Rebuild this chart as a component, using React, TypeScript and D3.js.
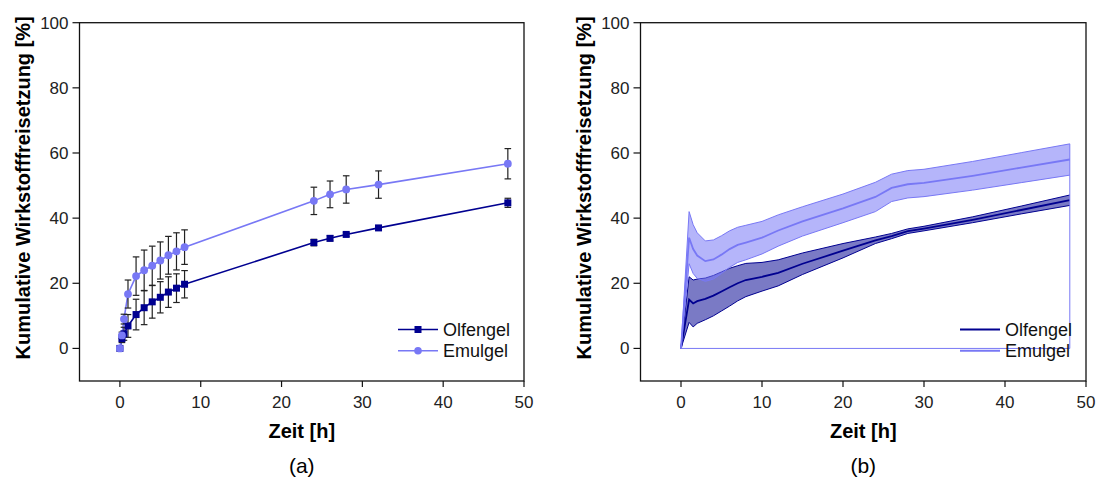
import React from "react";
import * as d3 from "d3";

// ---------- Data (a): discrete points with SD ----------
const timesA = [0, 0.25, 0.5, 1, 2, 3, 4, 5, 6, 7, 8, 24, 26, 28, 32, 48];
const olfengelA = [0, 3, 4.5, 6.9, 10.4, 12.5, 14.3, 15.7, 17.3, 18.5, 19.7, 32.5, 33.8, 35, 37, 44.7];
const olfengelSdA = [0, 1.2, 2, 3.5, 4.7, 5.2, 5, 4.8, 4.7, 4.4, 4.2, 1, 0.8, 0.6, 0.6, 1.4];
const emulgelA = [0, 4, 9, 16.7, 22.2, 24, 25.4, 27, 28.6, 29.8, 31.1, 45.3, 47.3, 48.8, 50.3, 56.7];
const emulgelSdA = [0, 1, 1.5, 4.3, 5.9, 6.2, 6, 5.7, 5.8, 5.7, 5.3, 4.2, 4.1, 4.2, 4.2, 4.65];

// ---------- Data (b): mean curve with SD band ----------
const timesB = [0, 1, 1.5, 2, 3, 4, 5, 6, 7, 8, 10, 12, 15, 20, 24, 26, 28, 30, 36, 42, 48];
const olfengelB = [0, 15, 13.8, 14.5, 15.2, 16.2, 17.5, 18.8, 20, 21, 22, 23.2, 26, 30, 33.2, 34.5, 36, 36.8, 39.5, 42.5, 45.5];
const olfengelSdB = [0, 7, 7.2, 6.8, 6.4, 6.2, 6, 5.8, 5.4, 5.1, 4.4, 4, 3.3, 2.2, 1, 0.8, 0.7, 0.7, 0.9, 1.2, 1.6];
const emulgelB = [0, 34, 30.5, 28.5, 26.8, 27.3, 28.8, 30.5, 31.8, 32.5, 34, 36.2, 39, 43, 46.5, 49.3, 50.4, 50.8, 53, 55.5, 58];
const emulgelSdB = [0, 8, 7.5, 7, 6.2, 6, 5.8, 5.6, 5.4, 5.3, 5, 4.8, 4.5, 4.4, 4.5, 4.2, 4.2, 4.2, 4.4, 4.6, 4.8];

const xTicks = [0, 10, 20, 30, 40, 50];
const yTicks = [0, 20, 40, 60, 80, 100];
const seriesNames = ["Olfengel", "Emulgel"];
const panelLabels = ["(a)", "(b)"];
const xTitle = "Zeit [h]";
const yTitle = "Kumulative Wirkstofffreisetzung [%]";

const DARK = "#000090";
const LIGHT = "#7878F5";
const FONT = "Arial, 'Liberation Sans', Helvetica, sans-serif";

type Pt = { t: number; v: number; sd: number };
const zip = (t: number[], v: number[], sd: number[]): Pt[] => t.map((x, i) => ({ t: x, v: v[i], sd: sd[i] }));

function Frame({ x, y, label }: { x: d3.ScaleLinear<number, number>; y: d3.ScaleLinear<number, number>; label: string }) {
  const [x0, x1] = x.range();
  const [y0, y1] = y.range();
  const cx = (x0 + x1) / 2;
  const cy = (y0 + y1) / 2;
  return (
    <g fontFamily={FONT}>
      <rect x={x0} y={y1} width={x1 - x0} height={y0 - y1} fill="none" stroke="#111" strokeWidth={1.3} />
      {yTicks.map((t) => (
        <g key={"y" + t}>
          <line x1={x0 - 7} x2={x0} y1={y(t)} y2={y(t)} stroke="#111" strokeWidth={1.2} />
          <text x={x0 - 11} y={y(t)} dy="0.35em" textAnchor="end" fontSize={17} fill="#222">
            {t}
          </text>
        </g>
      ))}
      {xTicks.map((t) => (
        <g key={"x" + t}>
          <line x1={x(t)} x2={x(t)} y1={y0} y2={y0 + 6} stroke="#111" strokeWidth={1.2} />
          <text x={x(t)} y={408} textAnchor="middle" fontSize={17} fill="#222">
            {t}
          </text>
        </g>
      ))}
      <text x={cx} y={438} textAnchor="middle" fontSize={20} fontWeight="bold" fill="#000">
        {xTitle}
      </text>
      <text x={cx} y={473} textAnchor="middle" fontSize={21} fill="#000">
        {label}
      </text>
      <text
        transform={`translate(${x0 - 57},${cy - 14}) rotate(-90)`}
        textAnchor="middle"
        dy="0.35em"
        fontSize={20}
        fontWeight="bold"
        fill="#000"
      >
        {yTitle}
      </text>
    </g>
  );
}

function Legend({ right, markers }: { right: number; markers: boolean }) {
  const colors = [DARK, LIGHT];
  return (
    <g fontFamily={FONT}>
      {seriesNames.map((n, i) => {
        const yy = 329.5 + i * 21.3;
        const lx0 = right - 126;
        const lx1 = right - 86;
        return (
          <g key={n}>
            <line x1={lx0} x2={lx1} y1={yy} y2={yy} stroke={colors[i]} strokeWidth={markers ? 1.6 : 2} />
            {markers && i === 0 && <rect x={(lx0 + lx1) / 2 - 3.5} y={yy - 3.5} width={7} height={7} fill={DARK} />}
            {markers && i === 1 && <circle cx={(lx0 + lx1) / 2} cy={yy} r={3.8} fill={LIGHT} />}
            <text x={right - 81} y={yy} dy="0.36em" fontSize={18} fill="#111">
              {n}
            </text>
          </g>
        );
      })}
    </g>
  );
}

function PanelA() {
  const x = d3.scaleLinear().domain([-5, 50]).range([79.5, 524]);
  const y = d3.scaleLinear().domain([-10, 100]).range([381, 22.7]);
  const olf = zip(timesA, olfengelA, olfengelSdA);
  const emu = zip(timesA, emulgelA, emulgelSdA);
  const line = d3
    .line<Pt>()
    .x((d) => x(d.t))
    .y((d) => y(d.v));
  const bars = (data: Pt[], k: string) =>
    data
      .filter((d) => d.sd > 0)
      .map((d, i) => (
        <g key={k + i} stroke="#222" strokeWidth={1.2}>
          <line x1={x(d.t)} x2={x(d.t)} y1={y(d.v - d.sd)} y2={y(d.v + d.sd)} />
          <line x1={x(d.t) - 3.3} x2={x(d.t) + 3.3} y1={y(d.v - d.sd)} y2={y(d.v - d.sd)} />
          <line x1={x(d.t) - 3.3} x2={x(d.t) + 3.3} y1={y(d.v + d.sd)} y2={y(d.v + d.sd)} />
        </g>
      ));
  return (
    <g>
      <path d={line(olf) || ""} fill="none" stroke={DARK} strokeWidth={1.6} />
      <path d={line(emu) || ""} fill="none" stroke={LIGHT} strokeWidth={1.6} />
      {bars(olf, "o")}
      {bars(emu, "e")}
      {olf.map((d, i) => (
        <rect key={"s" + i} x={x(d.t) - 3.5} y={y(d.v) - 3.5} width={7} height={7} fill={DARK} />
      ))}
      {emu.map((d, i) => (
        <circle key={"c" + i} cx={x(d.t)} cy={y(d.v)} r={3.9} fill={LIGHT} />
      ))}
      <Frame x={x} y={y} label={panelLabels[0]} />
      <Legend right={524} markers={true} />
    </g>
  );
}

function PanelB() {
  const x = d3.scaleLinear().domain([-5, 50]).range([640.5, 1086]);
  const y = d3.scaleLinear().domain([-10, 100]).range([381, 22.7]);
  const olf = zip(timesB, olfengelB, olfengelSdB);
  const emu = zip(timesB, emulgelB, emulgelSdB);
  const area = d3
    .area<Pt>()
    .x((d) => x(d.t))
    .y0((d) => y(d.v - d.sd))
    .y1((d) => y(d.v + d.sd));
  const mk = (f: (d: Pt) => number) =>
    d3
      .line<Pt>()
      .x((d) => x(d.t))
      .y((d) => y(f(d)));
  const mean = mk((d) => d.v);
  const hi = mk((d) => d.v + d.sd);
  const lo = mk((d) => d.v - d.sd);
  const last = emu[emu.length - 1];
  const closing = `M${x(last.t)},${y(last.v + last.sd)}L${x(last.t)},${y(0)}L${x(0)},${y(0)}`;
  return (
    <g>
      <path d={area(olf) || ""} fill={DARK} fillOpacity={0.52} stroke="none" />
      <path d={hi(olf) || ""} fill="none" stroke={DARK} strokeWidth={1} />
      <path d={lo(olf) || ""} fill="none" stroke={DARK} strokeWidth={1} />
      <path d={mean(olf) || ""} fill="none" stroke={DARK} strokeWidth={1.8} />
      <path d={area(emu) || ""} fill={LIGHT} fillOpacity={0.55} stroke="none" />
      <path d={hi(emu) || ""} fill="none" stroke={LIGHT} strokeWidth={1} />
      <path d={lo(emu) || ""} fill="none" stroke={LIGHT} strokeWidth={1} />
      <path d={mean(emu) || ""} fill="none" stroke={LIGHT} strokeWidth={1.8} />
      <path d={closing} fill="none" stroke={LIGHT} strokeWidth={1} />
      <Frame x={x} y={y} label={panelLabels[1]} />
      <Legend right={1086} markers={false} />
    </g>
  );
}

export default function App() {
  return (
    <svg
      width={1097}
      height={482}
      style={{ position: "absolute", left: 0, top: 0, background: "#fff" }}
    >
      <rect width={1097} height={482} fill="#fff" />
      <PanelA />
      <PanelB />
    </svg>
  );
}
